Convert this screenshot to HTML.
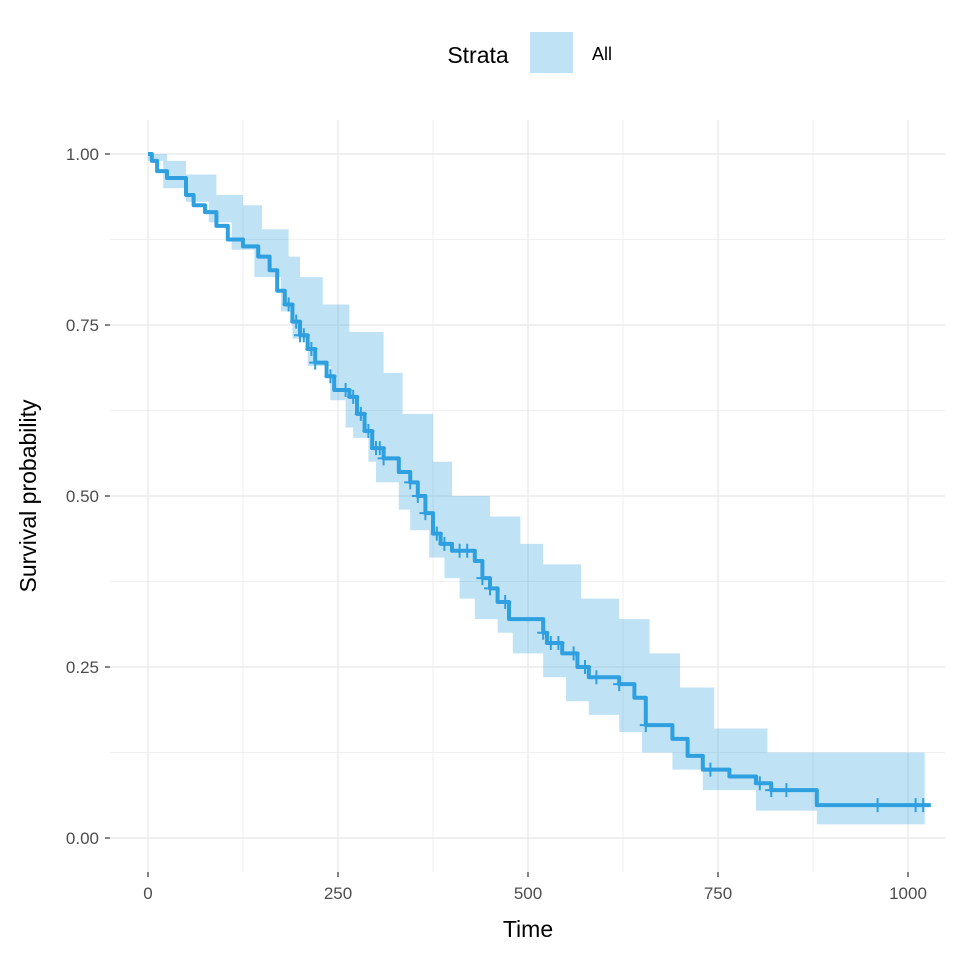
<!DOCTYPE html>
<html><head><meta charset="utf-8"><style>
body{margin:0;background:#fff}
svg text{font-family:"Liberation Sans",Arial,sans-serif}
</style></head><body>
<svg id="c" width="960" height="960" xmlns="http://www.w3.org/2000/svg">
<rect width="960" height="960" fill="#fff"/>
<g id="grid"></g>
<g id="band"></g>
<g id="curve"></g>
<g id="cens"></g>
<g id="axes"></g>
<text x="478" y="63" font-size="23" text-anchor="middle" fill="#000">Strata</text>
<rect x="530" y="32" width="43" height="41" fill="#2E9FDF" fill-opacity="0.3"/>
<text x="592" y="60" font-size="18" fill="#000">All</text>
<text x="528" y="937" font-size="23" text-anchor="middle" fill="#000">Time</text>
<text transform="translate(36,496) rotate(-90)" font-size="23" text-anchor="middle" fill="#000">Survival probability</text>
</svg>
<script>
const survTimes=[0,5,12,25,50,60,75,90,105,125,145,160,170,180,190,200,210,220,235,245,265,275,285,295,310,330,345,355,365,375,385,400,430,440,450,460,475,520,525,545,565,580,620,640,655,690,710,730,765,800,820,880];
const survVals=[1.0,0.99,0.975,0.965,0.94,0.925,0.915,0.895,0.875,0.865,0.85,0.83,0.80,0.78,0.755,0.735,0.715,0.695,0.675,0.655,0.645,0.62,0.595,0.57,0.555,0.535,0.52,0.50,0.475,0.445,0.43,0.42,0.405,0.38,0.365,0.345,0.32,0.30,0.285,0.27,0.25,0.235,0.225,0.205,0.165,0.145,0.12,0.10,0.09,0.08,0.07,0.048];
const upperTimes=[0,25,50,90,125,150,185,200,230,265,310,335,375,400,450,490,520,570,620,660,700,745,815];
const upperVals=[1.0,0.99,0.97,0.94,0.925,0.89,0.85,0.82,0.78,0.74,0.68,0.62,0.55,0.50,0.47,0.43,0.40,0.35,0.32,0.27,0.22,0.16,0.125];
const lowerTimes=[0,20,50,80,110,140,175,190,210,240,260,270,290,300,330,345,370,390,410,430,460,480,520,550,580,620,650,690,730,800,880];
const lowerVals=[0.99,0.95,0.93,0.90,0.86,0.82,0.77,0.73,0.69,0.64,0.60,0.585,0.55,0.52,0.48,0.45,0.41,0.38,0.35,0.32,0.30,0.27,0.235,0.20,0.18,0.155,0.125,0.10,0.07,0.04,0.02];
const censorTimes=[185,195,200,205,215,220,240,260,270,280,290,300,305,310,345,355,365,380,390,410,420,440,450,470,520,530,540,560,575,590,620,655,740,805,820,840,960,1010,1020];
const tMax=1022;
const xTicks=[0,250,500,750,1000];
const yTicks=[0,0.25,0.5,0.75,1];
const xTickLabels=["0","250","500","750","1000"];
const yTickLabels=["0.00","0.25","0.50","0.75","1.00"];

const X=t=>148+t*0.76, Y=s=>838-s*684;
const NS="http://www.w3.org/2000/svg";
function mk(tag,parent,attrs){const e=document.createElementNS(NS,tag);for(const k in attrs)e.setAttribute(k,attrs[k]);parent.appendChild(e);return e;}
function stepPts(ts,vs,end){let p=[];for(let i=0;i<ts.length;i++){const tn=i+1<ts.length?ts[i+1]:end;p.push([X(ts[i]),Y(vs[i])],[X(tn),Y(vs[i])]);}return p;}
const grid=document.getElementById('grid');
for(let i=0;i<xTicks.length;i++){
 const l=mk('line',grid,{x1:X(xTicks[i]),x2:X(xTicks[i]),y1:120,y2:872,stroke:'#ebebeb','stroke-width':1.4});
 
 if(i<xTicks.length-1){const m=(xTicks[i]+xTicks[i+1])/2;const l2=mk('line',grid,{x1:X(m),x2:X(m),y1:120,y2:872,stroke:'#ebebeb','stroke-width':0.8});
 }
}
for(let i=0;i<yTicks.length;i++){
 const l=mk('line',grid,{x1:110,x2:945,y1:Y(yTicks[i]),y2:Y(yTicks[i]),stroke:'#ebebeb','stroke-width':1.4});
 
 if(i<yTicks.length-1){const m=(yTicks[i]+yTicks[i+1])/2;const l2=mk('line',grid,{x1:110,x2:945,y1:Y(m),y2:Y(m),stroke:'#ebebeb','stroke-width':0.8});
 }
}
const up=stepPts(upperTimes,upperVals,tMax), lo=stepPts(lowerTimes,lowerVals,tMax);
const poly=up.concat(lo.reverse()).map(p=>p.join(',')).join(' ');
const bp=mk('polygon',document.getElementById('band'),{points:poly,fill:'#2E9FDF','fill-opacity':0.3});


const cp=stepPts(survTimes,survVals,1030);
const cl=mk('polyline',document.getElementById('curve'),{points:cp.map(p=>p.join(',')).join(' '),fill:'none',stroke:'#2E9FDF','stroke-width':4,'stroke-linejoin':'round'});


function sAt(t){let v=1;for(let i=0;i<survTimes.length;i++){if(survTimes[i]<=t)v=survVals[i];}return v;}
const cens=document.getElementById('cens');
censorTimes.forEach(t=>{const x=X(t),y=Y(sAt(t));
 const g=mk('path',cens,{d:`M${x-6},${y}H${x+6}M${x},${y-7}V${y+7}`,stroke:'#2E9FDF','stroke-width':2});
 
 
});
const ax=document.getElementById('axes');
xTicks.forEach((t,i)=>{
 const tk=mk('line',ax,{x1:X(t),x2:X(t),y1:872,y2:877,stroke:'#333','stroke-width':1.2});
 
 const tx=mk('text',ax,{x:X(t),y:899,'font-size':17,'text-anchor':'middle',fill:'#4d4d4d'});tx.textContent=xTickLabels[i];
 
});
yTicks.forEach((s,i)=>{
 const tk=mk('line',ax,{x1:105,x2:110,y1:Y(s),y2:Y(s),stroke:'#333','stroke-width':1.2});
 
 const tx=mk('text',ax,{x:99,y:Y(s)+6,'font-size':17,'text-anchor':'end',fill:'#4d4d4d'});tx.textContent=yTickLabels[i];
 
});
</script>
</body></html>
